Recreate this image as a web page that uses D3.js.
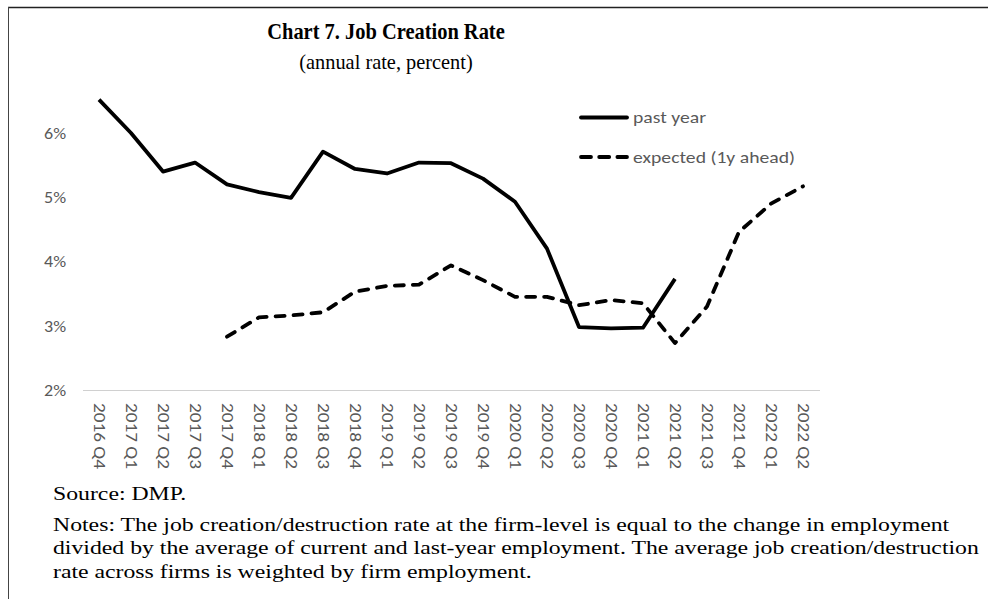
<!DOCTYPE html>
<html>
<head>
<meta charset="utf-8">
<script src="https://cdn.jsdelivr.net/npm/d3@7"></script>
<style>
  html, body { margin: 0; padding: 0; background: #fff; }
  svg { display: block; }
</style>
</head>
<body>
<svg id="chart" width="988" height="599"></svg>
<script>
const categories = ["2016 Q4","2017 Q1","2017 Q2","2017 Q3","2017 Q4","2018 Q1","2018 Q2","2018 Q3","2018 Q4","2019 Q1","2019 Q2","2019 Q3","2019 Q4","2020 Q1","2020 Q2","2020 Q3","2020 Q4","2021 Q1","2021 Q2","2021 Q3","2021 Q4","2022 Q1","2022 Q2"];
const pastYear = [6.52, 6.00, 5.40, 5.54, 5.20, 5.08, 4.99, 5.71, 5.44, 5.37, 5.54, 5.53, 5.29, 4.93, 4.20, 2.98, 2.96, 2.97, 3.73, null, null, null, null];
const expected = [null, null, null, null, 2.83, 3.13, 3.16, 3.21, 3.53, 3.62, 3.64, 3.94, 3.71, 3.45, 3.45, 3.32, 3.40, 3.35, 2.73, 3.30, 4.46, 4.90, 5.17];
const yTicks = [2, 3, 4, 5, 6];
const seriesNames = ["past year", "expected (1y ahead)"];
const titleText = "Chart 7. Job Creation Rate";
const subtitleText = "(annual rate, percent)";
const sourceText = "Source: DMP.";
const notesLines = [
  "Notes: The job creation/destruction rate at the firm-level is equal to the change in employment",
  "divided by the average of current and last-year employment. The average job creation/destruction",
  "rate across firms is weighted by firm employment."
];

const svg = d3.select("#chart");
const W = 988, H = 599;
const serif = "'Liberation Serif', 'Times New Roman', serif";
const labelFont = "Carlito, Calibri, Lato, 'Open Sans', sans-serif";
const labelColor = "#595959";

// frame
svg.append("line").attr("x1", 8).attr("x2", W).attr("y1", 7.5).attr("y2", 7.5)
  .attr("stroke", "#222").attr("stroke-width", 1.5);
svg.append("line").attr("x1", 8.5).attr("x2", 8.5).attr("y1", 7).attr("y2", H)
  .attr("stroke", "#444").attr("stroke-width", 1);

// title (slightly condensed like the original)
svg.append("g").attr("transform", "translate(386,39) scale(0.87,1)")
  .append("text").attr("x", 0).attr("y", 0).attr("text-anchor", "middle")
  .attr("font-family", serif).attr("font-weight", "bold").attr("font-size", 23.5).attr("fill", "#000")
  .text(titleText);
svg.append("g").attr("transform", "translate(386,69) scale(0.97,1)")
  .append("text").attr("x", 0).attr("y", 0).attr("text-anchor", "middle")
  .attr("font-family", serif).attr("font-size", 21).attr("fill", "#000")
  .text(subtitleText);

// scales
const x = d3.scalePoint().domain(categories).range([99, 803]);
const y = d3.scaleLinear().domain([2, 6]).range([390, 133]);

// baseline (2%)
svg.append("line").attr("x1", 83).attr("x2", 820)
  .attr("y1", y(2) + 0.5).attr("y2", y(2) + 0.5)
  .attr("stroke", "#d0d0d0").attr("stroke-width", 1.2);

// y axis labels
const yAxis = d3.axisLeft(y).tickValues(yTicks).tickFormat(d => d + "%").tickSize(0).tickPadding(0);
const gy = svg.append("g").attr("transform", "translate(66,0)").call(yAxis);
gy.select(".domain").remove();
gy.selectAll("text").attr("font-family", labelFont).attr("font-size", 17).attr("fill", labelColor)
  .attr("textLength", 22).attr("lengthAdjust", "spacingAndGlyphs");

// x axis labels (rotated, reading top to bottom)
const xAxis = d3.axisBottom(x).tickSize(0).tickPadding(0);
const gx = svg.append("g").attr("transform", `translate(0,${y(2) + 13})`).call(xAxis);
gx.select(".domain").remove();
gx.selectAll("text")
  .attr("font-family", labelFont).attr("font-size", 17).attr("fill", labelColor)
  .attr("text-anchor", "start")
  .attr("dy", "0.35em").attr("y", 0).attr("x", 0)
  .attr("textLength", 66).attr("lengthAdjust", "spacingAndGlyphs")
  .attr("transform", "rotate(90)");

// lines
const line = d3.line()
  .defined(d => d.v !== null)
  .x(d => x(d.c)).y(d => y(d.v));

const pastData = categories.map((c, i) => ({c, v: pastYear[i]}));
const expData = categories.map((c, i) => ({c, v: expected[i]}));
const dash = "9,9";

svg.append("path").datum(expData).attr("d", line)
  .attr("fill", "none").attr("stroke", "#000").attr("stroke-width", 3.8)
  .attr("stroke-dasharray", dash).attr("stroke-linecap", "round").attr("stroke-linejoin", "round");
svg.append("path").datum(pastData).attr("d", line)
  .attr("fill", "none").attr("stroke", "#000").attr("stroke-width", 3.8)
  .attr("stroke-linejoin", "round");

// legend
const legendItems = [
  {name: seriesNames[0], dashed: false, y: 117.5, len: 73},
  {name: seriesNames[1], dashed: true, y: 157, len: 162}
];
legendItems.forEach(l => {
  const ln = svg.append("line").attr("x1", 581).attr("x2", 627).attr("y1", l.y).attr("y2", l.y)
    .attr("stroke", "#000").attr("stroke-width", 3.8).attr("stroke-linecap", "round");
  if (l.dashed) ln.attr("stroke-dasharray", "10,8.2");
  svg.append("text").attr("x", 633).attr("y", l.y).attr("dy", "0.35em")
    .attr("font-family", labelFont).attr("font-size", 17).attr("fill", labelColor)
    .attr("textLength", l.len).attr("lengthAdjust", "spacingAndGlyphs")
    .text(l.name);
});

// source and notes (wide serif text)
const notesG = svg.append("g").attr("transform", "translate(53,0) scale(1.25,1)");
notesG.append("text").attr("x", 0).attr("y", 500)
  .attr("font-family", serif).attr("font-size", 19).attr("fill", "#000").text(sourceText);
notesLines.forEach((t, i) => {
  notesG.append("text").attr("x", 0).attr("y", 531 + i * 23.5)
    .attr("font-family", serif).attr("font-size", 19).attr("fill", "#000").text(t);
});
</script>
</body>
</html>
